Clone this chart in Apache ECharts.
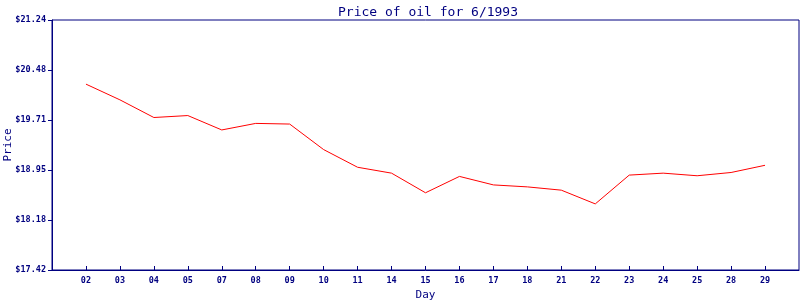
<!DOCTYPE html>
<html>
<head>
<meta charset="utf-8">
<script src="https://cdn.jsdelivr.net/npm/echarts@6/dist/echarts.min.js"></script>
<style>html,body{margin:0;padding:0;background:#fff}#c{width:800px;height:300px}</style>
</head>
<body>
<div id="c"></div>
<script>
var days = ['02','03','04','05','07','08','09','10','11','14','15','16','17','18','21','22','23','24','25','28','29'];
var prices = [20.26,20.02,19.75,19.78,19.56,19.66,19.65,19.26,18.99,18.90,18.60,18.85,18.72,18.69,18.64,18.43,18.87,18.90,18.86,18.91,19.02];
var yTicks = [17.42,18.184,18.948,19.712,20.476,21.24];
var yMin = 17.42, yMax = 21.24;

var cats = [''].concat(days).concat(['']);
var vals = [null].concat(prices).concat([null]);
var navy = '#000080';
var chart = echarts.init(document.getElementById('c'));
chart.setOption({
  animation:false,
  title:{text:'Price of oil for 6/1993', left:333, top:1,
    textStyle:{fontFamily:'DejaVu Sans Mono', fontSize:13, fontWeight:'normal', color:navy}},
  grid:{left:52, right:1, top:20, bottom:30, show:true, borderColor:navy, borderWidth:1, containLabel:false, outerBoundsMode:'none'},
  xAxis:{type:'category', data:cats, boundaryGap:false,
    name:'Day', nameLocation:'middle', nameGap:20, nameMoveOverlap:false,
    nameTextStyle:{fontFamily:'DejaVu Sans Mono', fontSize:11, color:navy},
    axisLine:{lineStyle:{color:navy, width:1}},
    axisTick:{inside:true, length:4, lineStyle:{color:navy}, interval:function(i,v){return v!=='';}},
    axisLabel:{interval:0, color:navy, fontFamily:'DejaVu Sans Mono', fontSize:8.5, fontWeight:'bold', margin:6},
    splitLine:{show:false}},
  yAxis:{type:'value', min:yMin, max:yMax,
    name:'Price', nameLocation:'middle', nameGap:38, nameRotate:90, nameMoveOverlap:false,
    nameTextStyle:{fontFamily:'DejaVu Sans Mono', fontSize:11, color:navy},
    axisLine:{show:true, lineStyle:{color:navy, width:1}},
    axisTick:{show:true, length:4, lineStyle:{color:navy}, customValues:yTicks},
    axisLabel:{color:navy, fontFamily:'DejaVu Sans Mono', fontSize:8.5, fontWeight:'bold', margin:6,
      customValues:yTicks, formatter:function(v){return '$'+v.toFixed(2);}},
    splitLine:{show:false}},
  series:[{type:'line', data:vals, showSymbol:false, symbol:'none',
    lineStyle:{color:'#ff0000', width:1}, itemStyle:{color:'#ff0000'}}]
});
</script>
</body>
</html>
